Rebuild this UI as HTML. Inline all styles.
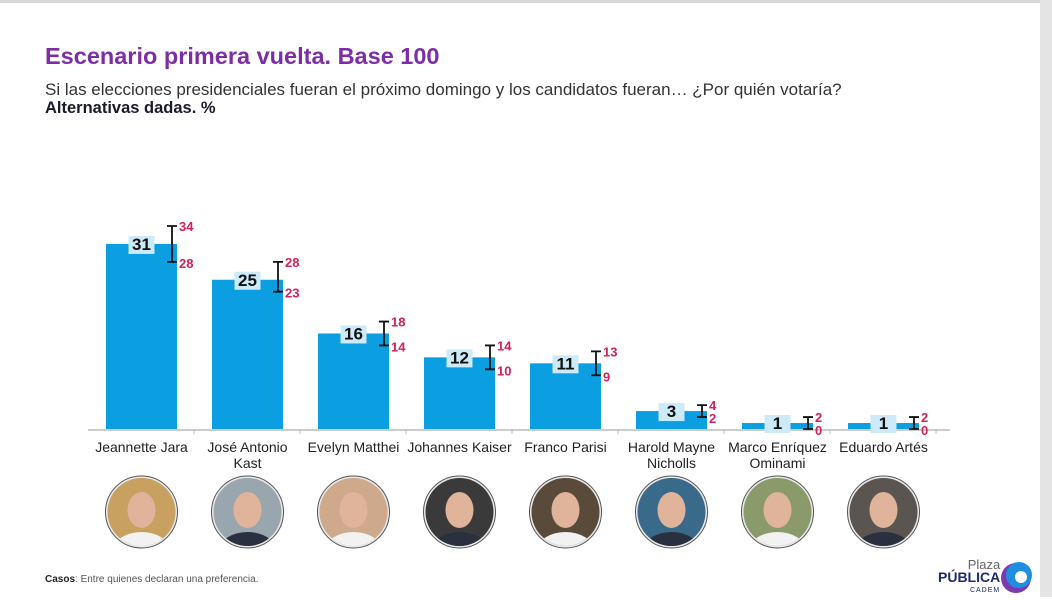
<!DOCTYPE html>
<html><head><meta charset="utf-8">
<style>
html,body{margin:0;padding:0;background:#fff}
body{width:1052px;height:597px;position:relative;overflow:hidden;font-family:"Liberation Sans",sans-serif}
.t{position:absolute;white-space:nowrap}
</style></head>
<body>
<div style="position:absolute;left:0;top:0;width:1052px;height:3px;background:#d6d6d6"></div>
<div style="position:absolute;left:1040px;top:0;width:12px;height:597px;background:#e4e4e4"></div>
<div class="t" style="left:45px;top:43px;font-size:23.5px;font-weight:bold;color:#7d2ea6">Escenario primera vuelta. Base 100</div>
<div class="t" style="left:45px;top:80px;font-size:17px;color:#333">Si las elecciones presidenciales fueran el próximo domingo y los candidatos fueran… ¿Por quién votaría?</div>
<div class="t" style="left:45px;top:99px;font-size:16.5px;font-weight:bold;color:#1a1a2e">Alternativas dadas. %</div>
<svg id="chart" width="1052" height="597" style="position:absolute;left:0;top:0"></svg>
<div class="t" style="left:45px;top:574px;font-size:10px;color:#555"><b style="color:#222">Casos</b>: Entre quienes declaran una preferencia.</div>
<div class="t" style="left:938px;top:558px;text-align:right;line-height:13px">
<div style="font-size:13px;color:#666;padding-left:20px">Plaza</div>
<div style="font-size:14px;font-weight:bold;color:#1f2a6b">PÚBLICA</div>
<div style="font-size:7px;color:#1f2a6b;letter-spacing:1px">CADEM</div></div>
<svg width="40" height="40" style="position:absolute;left:998px;top:560px">
<circle cx="18" cy="18" r="15" fill="#7b3bb0"/><circle cx="21" cy="15" r="13" fill="#1e8fe0"/><circle cx="23" cy="17" r="6" fill="#fff"/></svg>
<script>
const categories=["Jeannette Jara","José Antonio|Kast","Evelyn Matthei","Johannes Kaiser","Franco Parisi","Harold Mayne|Nicholls","Marco Enríquez|Ominami","Eduardo Artés"];
const values=[31,25,16,12,11,3,1,1];
const upper=[34,28,18,14,13,4,2,2];
const lower=[28,23,14,10,9,2,0,0];
const photoColors=["#c8a060","#9aa6ad","#cfa98c","#3a3a3a","#5a4a3a","#3a6a8a","#8a9a6a","#5a5550"];
const svg=document.getElementById('chart');
const NS='http://www.w3.org/2000/svg';
const base=429, scaleY=5.97, x0=106, step=106, bw=71;
const xPos=i=>x0+i*step;
const yPos=v=>base-v*scaleY;
function mk(t,a){const e=document.createElementNS(NS,t);for(const k in a)e.setAttribute(k,a[k]);svg.appendChild(e);return e;}
const ax=mk('line',{x1:88,y1:base+1,x2:950,y2:base+1,stroke:'#bbb','stroke-width':1.5});


categories.forEach((c,i)=>{
  const x=xPos(i), cx=x+bw/2;
  const b=mk('rect',{x:x,y:yPos(values[i]),width:bw,height:base-yPos(values[i]),fill:'#0b9ee0'});
  
  
  const tk=mk('line',{x1:x+bw+17,y1:base,x2:x+bw+17,y2:base+5,stroke:'#bbb'});
  
  
  const lb=mk('rect',{x:cx-13,y:yPos(values[i])-8,width:26,height:18,fill:'#cdeaf8'});
  
  
  const vt=mk('text',{x:cx,y:yPos(values[i])+6,'text-anchor':'middle','font-size':17,'font-weight':'bold',fill:'#111'});
  vt.textContent=values[i];
  
  
  const ex=x+bw-5, yu=yPos(upper[i]), yl=yPos(lower[i]);
  const eb=mk('path',{d:`M${ex-5},${yu}H${ex+5}M${ex},${yu}V${yl}M${ex-5},${yl}H${ex+5}`,stroke:'#111','stroke-width':1.8,fill:'none'});
  
  
  const ut=mk('text',{x:ex+7,y:yu+5,'font-size':13,'font-weight':'bold',fill:'#d0205e'});
  ut.textContent=upper[i];
  
  
  const lt=mk('text',{x:ex+7,y:yl+6,'font-size':13,'font-weight':'bold',fill:'#d0205e'});
  lt.textContent=lower[i];
  
  
  c.split('|').forEach((ln,j)=>{
    const t=mk('text',{x:cx,y:452+j*16,'text-anchor':'middle','font-size':14,fill:'#222'});
    t.textContent=ln;
    
    
  });
  const g=mk('g',{});
  
  
  const pc=512;
  const p=[['circle',{cx:cx,cy:pc,r:36,fill:'#e8e8e8',stroke:'#555','stroke-width':1}],
    ['circle',{cx:cx,cy:pc,r:34,fill:photoColors[i]}],
    ['ellipse',{cx:cx,cy:pc+38,rx:28,ry:18,fill:i%2?'#2b3040':'#f2f2f2'}],
    ['ellipse',{cx:cx,cy:pc-2,rx:14,ry:18,fill:'#e0b49a'}]];
  p.forEach(([t,a])=>{const e=document.createElementNS(NS,t);for(const k in a)e.setAttribute(k,a[k]);g.appendChild(e);});
  const cl=document.createElementNS(NS,'clipPath');cl.setAttribute('id','c'+i);
  const cc=document.createElementNS(NS,'circle');cc.setAttribute('cx',cx);cc.setAttribute('cy',pc);cc.setAttribute('r',34);cl.appendChild(cc);svg.appendChild(cl);
  g.children[2].setAttribute('clip-path','url(#c'+i+')');
});
</script>
</body></html>
